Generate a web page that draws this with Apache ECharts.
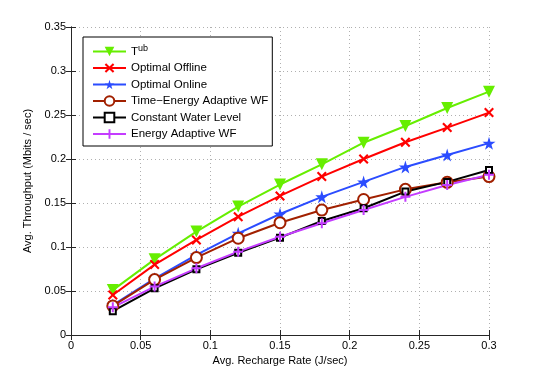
<!DOCTYPE html>
<html><head><meta charset="utf-8">
<script src="https://cdn.jsdelivr.net/npm/echarts@6/dist/echarts.min.js"></script>
<style>html,body{margin:0;padding:0;background:#fff}#c{width:540px;height:378px}</style>
</head><body><div id="c"></div>
<script>
const xValues = [0.03,0.06,0.09,0.12,0.15,0.18,0.21,0.24,0.27,0.30];
const tub =       [0.051,0.086,0.1175,0.146,0.171,0.194,0.2185,0.2375,0.258,0.2765];
const optOffline =[0.0455,0.080,0.108,0.1345,0.158,0.180,0.200,0.219,0.2357,0.2527];
const optOnline = [0.034,0.064,0.091,0.1155,0.1375,0.157,0.174,0.191,0.2045,0.218];
const teAdaptive =[0.033,0.063,0.088,0.110,0.1276,0.142,0.154,0.1655,0.1735,0.180];
const constWater =[0.027,0.053,0.0746,0.0935,0.1106,0.1295,0.144,0.163,0.174,0.1875];
const eAdaptive = [0.0315,0.055,0.0758,0.0947,0.1117,0.127,0.142,0.157,0.1705,0.182];
const seriesNames = ['T^ub','Optimal Offline','Optimal Online','Time\u2212Energy Adaptive WF','Constant Water Level','Energy Adaptive WF'];
const xTicks = {0:'0',0.05:'0.05',0.1:'0.1',0.15:'0.15',0.2:'0.2',0.25:'0.25',0.3:'0.3'};

const FONT = 'Liberation Sans, Arial, Helvetica, sans-serif';
const pair = a => xValues.map((x,i)=>[x,a[i]]);
const sym = {
  tri: 'path://M0,0L10,0L5,9Z',
  x: 'path://M1.5,0L5,3.5L8.5,0L10,1.5L6.5,5L10,8.5L8.5,10L5,6.5L1.5,10L0,8.5L3.5,5L0,1.5Z',
  star: 'path://M50,0L61,35L98,35L68,57L79,91L50,70L21,91L32,57L2,35L39,35Z',
  plus: 'path://M4,0L6,0L6,4L10,4L10,6L6,6L6,10L4,10L4,6L0,6L0,4L4,4Z'
};
function mk(name, data, color, symbol, size, extra) {
  return Object.assign({
    name, type:'line', data: pair(data), symbol, symbolSize:size,
    lineStyle:{color, width:2}, itemStyle:{color}, color, z:3, animation:false
  }, extra||{});
}
const series = [
  mk(seriesNames[0], tub, '#66ee00', sym.tri, 12),
  mk(seriesNames[1], optOffline, '#ff0000', sym.x, 10),
  mk(seriesNames[2], optOnline, '#2b4cff', sym.star, 13),
  mk(seriesNames[3], teAdaptive, '#a12000', 'emptyCircle', 11, {itemStyle:{color:'#a12000', borderWidth:2}}),
  mk(seriesNames[4], constWater, '#000000', 'emptyRect', 6, {itemStyle:{color:'#000', borderWidth:2}}),
  mk(seriesNames[5], eAdaptive, '#c43cff', sym.plus, 10)
];
const axisLineStyle = {lineStyle:{color:'#262626', width:1}};
const chart = echarts.init(document.getElementById('c'));
chart.setOption({
  animation:false,
  backgroundColor:'#fff',
  grid:{left:71, right:51, top:27, bottom:43},
  legend:{
    orient:'vertical', left:83, top:37, data:seriesNames,
    borderColor:'#000', borderWidth:1, padding:[7,4,6,9], itemGap:4.5,
    itemWidth:33, itemHeight:12, backgroundColor:'#fff',
    textStyle:{fontFamily:FONT, fontSize:11.5, color:'#000',
      rich:{n:{fontFamily:FONT,fontSize:11.5,color:'#000'}, s:{fontFamily:FONT,fontSize:9,color:'#000',verticalAlign:'top',padding:[0,0,6,0]}}},
    formatter: n => n==='T^ub' ? '{n|T}{s|ub}' : n
  },
  xAxis:[{
    type:'value', min:0, max:0.3, interval:0.05,
    name:'Avg. Recharge Rate (J/sec)', nameLocation:'middle', nameGap:14,
    nameTextStyle:{fontFamily:FONT, fontSize:11, color:'#000'},
    axisLine:axisLineStyle, axisTick:{inside:true, length:5, lineStyle:{color:'#262626'}},
    axisLabel:{fontFamily:FONT, fontSize:11, color:'#000', margin:5, formatter:v=>xTicks[Math.round(v*100)/100] ?? ''},
    splitLine:{show:true, lineStyle:{color:'#b0b0b0', type:[1,3], width:1}}
  },{
    type:'value', min:0, max:0.3, interval:0.05, position:'top',
    axisLine:axisLineStyle, axisTick:{inside:true, length:5, lineStyle:{color:'#262626'}},
    axisLabel:{show:false}, splitLine:{show:false}
  }],
  yAxis:[{
    type:'value', min:0, max:0.35, interval:0.05,
    name:'Avg. Throughput (Mbits / sec)', nameLocation:'middle', nameGap:30,
    nameTextStyle:{fontFamily:FONT, fontSize:11, color:'#000'},
    axisLine:{show:true, lineStyle:{color:'#262626'}}, axisTick:{show:true, inside:true, length:5, lineStyle:{color:'#262626'}},
    axisLabel:{fontFamily:FONT, fontSize:11, color:'#000', margin:5, formatter:v=>String(Math.round(v*100)/100)},
    splitLine:{show:true, lineStyle:{color:'#b0b0b0', type:[1,3], width:1}}
  },{
    type:'value', min:0, max:0.35, interval:0.05, position:'right',
    axisLine:{show:true, lineStyle:{color:'#262626'}}, axisTick:{show:true, inside:true, length:5, lineStyle:{color:'#262626'}},
    axisLabel:{show:false}, splitLine:{show:false}
  }],
  series
});
</script></body></html>
